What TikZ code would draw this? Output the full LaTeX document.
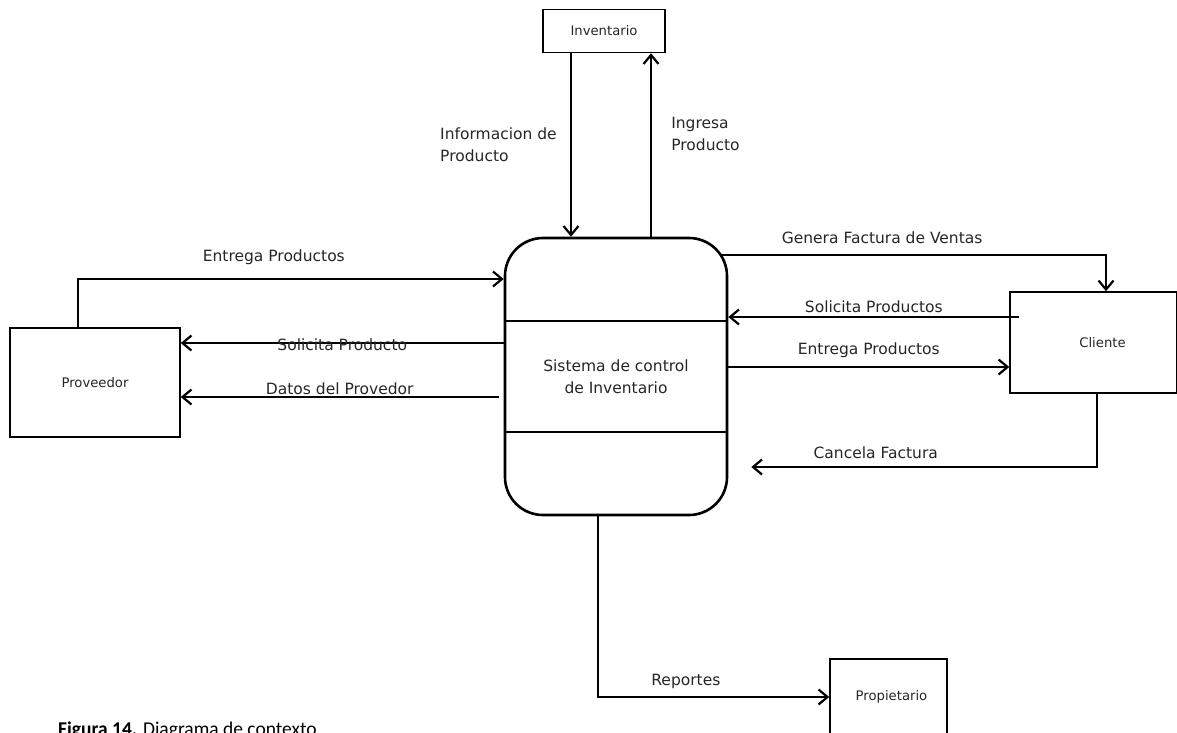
\documentclass[tikz,border=0pt]{standalone}
\usepackage{fontspec}
\setmainfont{DejaVu Sans}
\newfontfamily\capfont{Carlito}
\usetikzlibrary{arrows.meta}
\usetikzlibrary{calc}
\tikzset{ent/.style = {draw, line width=1.5pt, inner sep=0,
                       font=\fontsize{13.2}{15}\selectfont, text=black!85}}
\tikzset{flow/.style = {line width=2.6pt,
                        -{Straight Barb[length=9pt, width=15pt, line width=2.2pt]}}}
\tikzset{lbl/.style = {font=\fontsize{15.5}{22}\selectfont, text=black!85, inner sep=0}}

\begin{document}
\begin{tikzpicture}[x=1pt, y=-1pt]
      \useasboundingbox (0, 0) rectangle (1177, 732);
      \clip (0, 0) rectangle (1177, 732);
      \node [ent, minimum width=122pt, minimum height=43pt] (inv) at (604, 31) {Inventario};
      \node [ent, minimum width=170pt, minimum height=109pt] (prov) at (95, 382.5) {Proveedor};
      \node [ent, minimum width=167pt, minimum height=101pt] (cli) at (1093.5, 342.5) {\hspace{18pt}Cliente};
      \node [ent, minimum width=117pt, minimum height=76pt] (prop) at (888.5, 697) {\hspace{6pt}Propietario};
      \node [draw, line width=2.6pt, rounded corners=38pt, minimum width=222pt, minimum height=277pt,
             lbl, align=center] (sis) at (616, 376.5) {Sistema de control\\de Inventario};
      \draw [line width=2.6pt] (sis.west |- 0, 321) -- (sis.east |- 0, 321);
      \draw [line width=2.6pt] (sis.west |- 0, 432) -- (sis.east |- 0, 432);
      \coordinate (gfv) at (720, 255);
      % inventario
      \draw [flow] (inv.south -| 571, 0) -- (sis.north -| 571, 0)
            node [lbl, pos=0.5, left=13pt, align=left] {Informacion de\\Producto};
      \draw [flow] (sis.north -| 651, 0) -- (inv.south -| 651, 0)
            node [lbl, pos=0.56, right=19pt, align=left] {Ingresa\\Producto};
      % proveedor
      \draw [flow] (prov.north -| 78, 0) |- (sis.west |- 0, 279)
            node [lbl, pos=0.73, anchor=base, yshift=18pt] {Entrega Productos};
      \draw [flow] (sis.west |- 0, 343) -- (prov.east |- 0, 343)
            node [lbl, midway, anchor=base, yshift=-7pt] {Solicita Producto};
      \draw [flow] ($(sis.west |- 0, 397) + (-5, 0)$) -- (prov.east |- 0, 397)
            node [lbl, midway, anchor=base, yshift=3pt] {Datos del Provedor};
      % cliente
      \draw [flow] (gfv) -| (cli.north -| 1106, 0)
            node [lbl, pos=0.21, anchor=base, yshift=12pt] {Genera Factura de Ventas};
      \draw [flow] ($(cli.west |- 0, 317) + (10, 0)$) -- (sis.east |- 0, 317)
            node [lbl, midway, anchor=base, yshift=5pt] {Solicita Productos};
      \draw [flow] (sis.east |- 0, 367) -- (cli.west |- 0, 367)
            node [lbl, midway, anchor=base, yshift=13pt] {Entrega Productos};
      \draw [flow] (cli.south -| 1097, 0) |- ($(sis.east |- 0, 467) + (23, 0)$)
            node [lbl, pos=0.82, anchor=base, yshift=9pt] {Cancela Factura};
      % propietario
      \draw [flow] (sis.south -| 598, 0) |- (prop.west)
            node [lbl, pos=0.69, anchor=base, yshift=12pt] {Reportes};
      \node [anchor=base west, inner sep=0, font=\capfont\fontsize{19.5}{22}\selectfont] (cap)
            at (58, 735) {\textbf{Figura 14.} Diagrama de contexto};
    \end{tikzpicture}
\end{document}
